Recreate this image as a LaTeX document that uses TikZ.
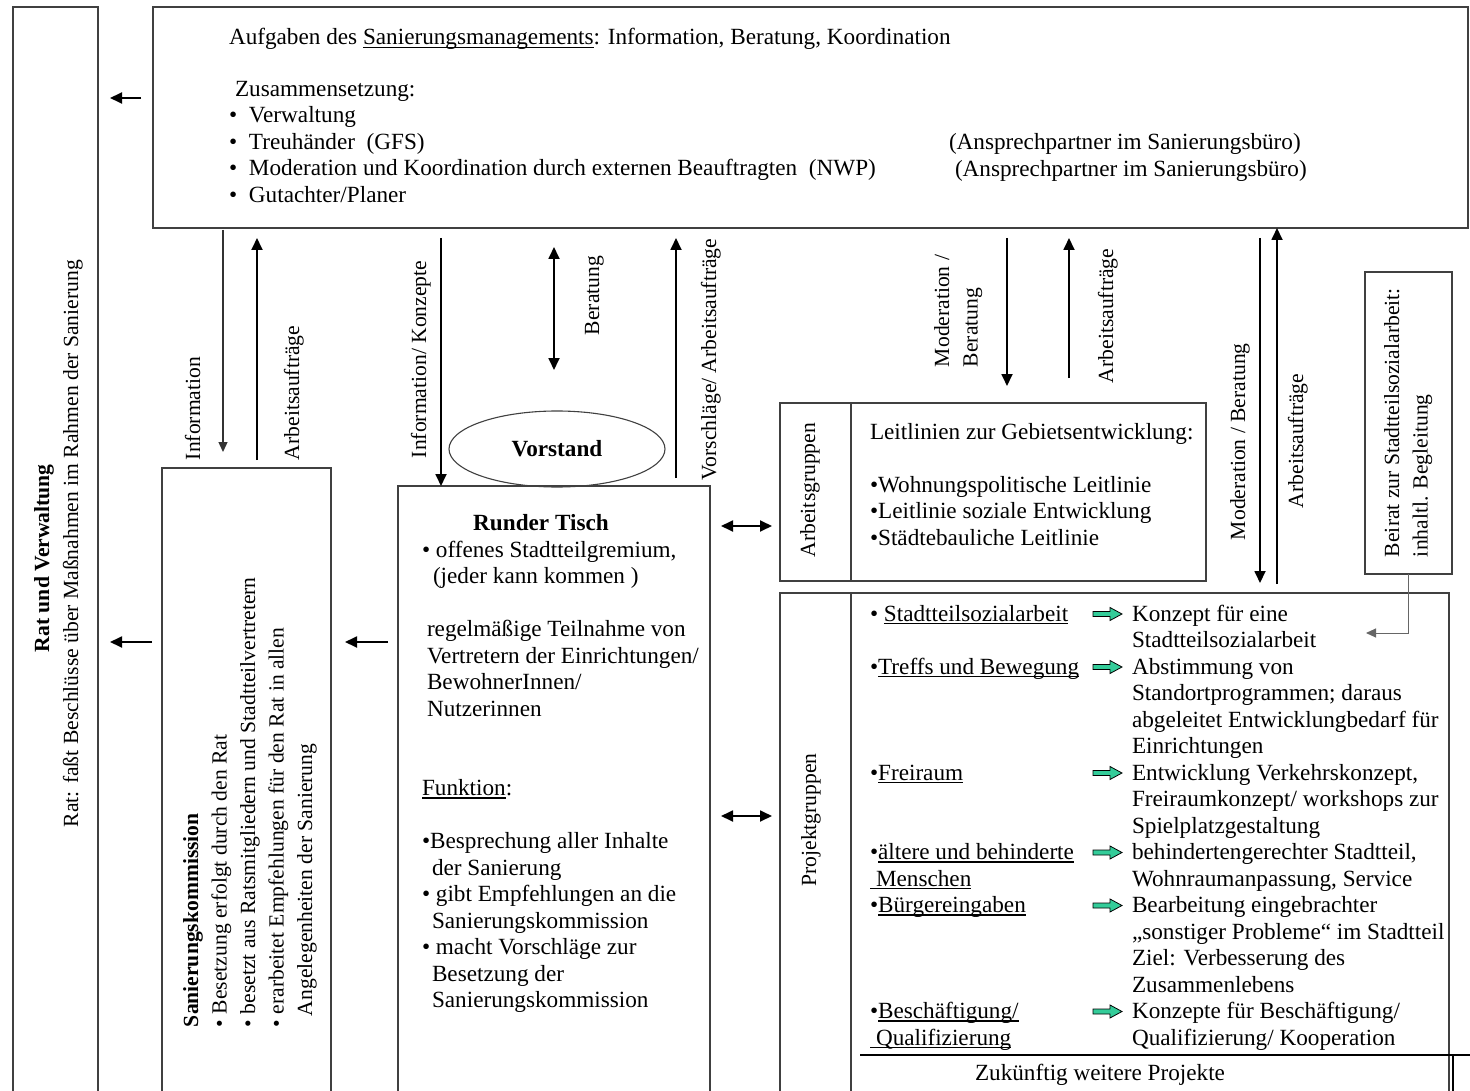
\documentclass[tikz,border=0pt]{standalone}
\usepackage{fontspec}
\setmainfont{Liberation Serif}
\usetikzlibrary{arrows.meta,calc,shapes.geometric}
\definecolor{grn}{RGB}{51,204,153}
\newcommand\uln[1]{\setbox0\hbox{#1}\rlap{\rule[-3pt]{\wd0}{1.1pt}}\box0}
\newcommand\tabl[1]{\begin{tabular}[t]{@{}l@{}}#1\end{tabular}}
\newcommand\mainfs{\fontsize{23.2}{26.5}\selectfont}
\newcommand\rotfs{\fontsize{21.6}{28.5}\selectfont}
\newcommand\garrow[1]{\filldraw[fill=grn,draw=black,line width=0.8pt]
  (1093,{#1-2.5}) -- (1110,{#1-2.5}) -- (1110,{#1-6.5}) -- (1122,#1) -- (1110,{#1+6.5}) -- (1110,{#1+2.5}) -- (1093,{#1+2.5}) -- cycle;}
\tikzset{
  box/.style={draw=black!75,line width=1.3pt,rectangle,anchor=north west},
  rotlab/.style={rotate=90,font=\rotfs},
  arr/.style={line width=1.8pt,-{Triangle[length=12pt,width=11pt]}},
  greyarr/.style={line width=1.3pt,draw=black!55,-{Triangle[length=10pt,width=9pt]},color=black!80},
  darr/.style={line width=1.8pt,{Triangle[length=12pt,width=11pt]}-{Triangle[length=12pt,width=11pt]}},
  conn/.style={line width=1pt,draw=black!60,-{Triangle[length=10pt,width=9pt]}},
  divider/.style={draw=black!75,line width=1.3pt}
}
\begin{document}
\begin{tikzpicture}[x=1pt,y=-1pt,every node/.style={inner sep=0pt,outer sep=0pt},font=\mainfs]
\useasboundingbox (0,0) rectangle (1470,1091);
\clip (0,0) rectangle (1470,1091);
\fill[white] (0,0) rectangle (1470,1091);

% boxes
\node[box,minimum width=85pt,minimum height=1100pt] (ratbox) at (13,7) {};
\node[box,minimum width=1315pt,minimum height=221pt] (topbox) at (153,7) {};
\node[box,minimum width=169pt,minimum height=640pt] (skbox) at (162,468) {};
\node[box,minimum width=312pt,minimum height=620pt] (rtbox) at (398,486) {};
\node[box,minimum width=426pt,minimum height=178pt] (agbox) at (780,403) {};
\node[box,minimum width=669pt,minimum height=520pt] (pgbox) at (780,593) {};
\node[box,minimum width=87pt,minimum height=302pt] (beirat) at (1365,272) {};
\node[ellipse,draw=black!75,line width=1.1pt,minimum width=216pt,minimum height=76pt] (vorstand) at (557,449) {\textbf{Vorstand}};

% dividers
\draw[divider] ($(agbox.north west)+(71,0)$) -- ($(agbox.south west)+(71,0)$);
\draw[divider] ($(pgbox.north west)+(71,0)$) -- ($(pgbox.south west)+(71,0)$);
\draw[line width=1.3pt] ($(pgbox.north west)+(80,462)$) -- ($(pgbox.north east)+(21,462)$);
\draw[line width=1.3pt] ($(pgbox.north east)+(4,462)$) -- ++(0,60);

% top box text
\node[anchor=base west] (aufg) at (229,45) {Aufgaben des \uln{Sanierungsmanagements}: Information, Beratung, Koordination};
\node[anchor=base west] (zus) at (235,97) {Zusammensetzung:};
\node[anchor=base west] (zusl) at (229,123) {\tabl{\makebox[20pt][l]{•}Verwaltung\\ \makebox[20pt][l]{•}Treuhänder\ \ (GFS)\\ \makebox[20pt][l]{•}Moderation und Koordination durch externen Beauftragten\ \ (NWP)\\ \makebox[20pt][l]{•}Gutachter/Planer}};
\node[anchor=base west] (ap1) at (949,150) {(Ansprechpartner im Sanierungsbüro)};
\node[anchor=base west] (ap2) at (955,176.5) {(Ansprechpartner im Sanierungsbüro)};

% Rat und Verwaltung
\node[rotlab,anchor=base west] (ratt) at (49,652) {\textbf{Rat und Verwaltung}};
\node[rotlab,anchor=base west] (ratd) at (78,827) {Rat: faßt Beschlüsse über Maßnahmen im Rahmen der Sanierung};

% Sanierungskommission
\node[rotlab,anchor=base west] (sktext) at (198,1027) {\tabl{\textbf{Sanierungskommission}\\ • Besetzung erfolgt durch den Rat\\ • besetzt aus Ratsmitgliedern und Stadtteilvertretern\\ • erarbeitet Empfehlungen für den Rat in allen\\ \hspace{11pt}Angelegenheiten der Sanierung}};

% Runder Tisch
\node[anchor=base] (rttitle) at (541,530) {\textbf{Runder Tisch}};
\node[anchor=base west] (rtbody) at (422,557) {\tabl{• offenes Stadtteilgremium,\\ \hspace{11pt}(jeder kann kommen )\\ \\ \hspace{5pt}regelmäßige Teilnahme von\\ \hspace{5pt}Vertretern der Einrichtungen/\\ \hspace{5pt}BewohnerInnen/\\ \hspace{5pt}Nutzerinnen\\ \\ \\ \uln{Funktion}:\\ \\ •Besprechung aller Inhalte\\ \hspace{10pt}der Sanierung\\ • gibt Empfehlungen an die\\ \hspace{10pt}Sanierungskommission\\ • macht Vorschläge zur\\ \hspace{10pt}Besetzung der\\ \hspace{10pt}Sanierungskommission}};

% Arbeitsgruppen
\node[rotlab,anchor=base] (aglab) at (815,490) {Arbeitsgruppen};
\node[anchor=base west] (agtext) at (870,439) {\tabl{Leitlinien zur Gebietsentwicklung:\\ \\ •Wohnungspolitische Leitlinie\\ •Leitlinie soziale Entwicklung\\ •Städtebauliche Leitlinie}};

% Projektgruppen
\node[rotlab,anchor=base] (pglab) at (816,820) {Projektgruppen};
\node[anchor=base west] (pgleft) at (870,621) {\tabl{• \uln{Stadtteilsozialarbeit}\\ \\ •\uln{Treffs und Bewegung}\\ \\ \\ \\ •\uln{Freiraum}\\ \\ \\ •\uln{ältere und behinderte}\\ \uln{\hspace{6pt}Menschen}\\ •\uln{Bürgereingaben}\\ \\ \\ \\ •\uln{Beschäftigung/}\\ \uln{\hspace{6pt}Qualifizierung}}};
\node[anchor=base west] (pgright) at (1132,621) {\tabl{Konzept für eine\\ Stadtteilsozialarbeit\\ Abstimmung von\\ Standortprogrammen; daraus\\ abgeleitet Entwicklungbedarf für\\ Einrichtungen\\ Entwicklung Verkehrskonzept,\\ Freiraumkonzept/ workshops zur\\ Spielplatzgestaltung\\ behindertengerechter Stadtteil,\\ Wohnraumanpassung, Service\\ Bearbeitung eingebrachter\\ „sonstiger Probleme“ im Stadtteil\\ Ziel: Verbesserung des\\ Zusammenlebens\\ Konzepte für Beschäftigung/\\ Qualifizierung/ Kooperation}};
\garrow{614}
\garrow{667}
\garrow{773}
\garrow{852.5}
\garrow{905.5}
\garrow{1011.5}
\node[anchor=base west] (zuk) at (975,1080) {Zukünftig weitere Projekte};

% Beirat
\node[rotlab,anchor=base west] (beitext) at (1399,557) {\tabl{Beirat zur Stadtteilsozialarbeit:\\ inhaltl. Begleitung}};

% arrow labels
\node[rotlab,anchor=base west] (l1) at (200,460) {Information};
\node[rotlab,anchor=base west] (l2) at (299,460) {Arbeitsaufträge};
\node[rotlab,anchor=base west] (l3) at (426,458) {Information/ Konzepte};
\node[rotlab,anchor=base west] (l4) at (599,335) {Beratung};
\node[rotlab,anchor=base west] (l5) at (716,480) {Vorschläge/ Arbeitsaufträge};
\node[rotlab,anchor=base west] (l6) at (949,367) {\tabl{Moderation /\\ Beratung}};
\node[rotlab,anchor=base west] (l7) at (1113,383) {Arbeitsaufträge};
\node[rotlab,anchor=base west] (l8) at (1245,540) {Moderation / Beratung};
\node[rotlab,anchor=base west] (l9) at (1303,508) {Arbeitsaufträge};

% connectors
\draw[arr] ($(topbox.north west)+(-12,91)$) -- ($(ratbox.north east)+(12,91)$);
\draw[arr] ($(skbox.north west)+(-10,174)$) -- ($(ratbox.north east)+(12,635)$);
\draw[arr] ($(rtbox.north west)+(-10,156)$) -- ($(skbox.north east)+(14,174)$);
\draw[greyarr] ($(topbox.south west)+(70,2)$) -- ($(skbox.north west)+(61,-16)$);
\draw[arr] ($(skbox.north west)+(95,-8)$) -- ($(topbox.south west)+(104,10)$);
\draw[arr] ($(topbox.south west)+(288,10)$) -- ($(rtbox.north west)+(43,0)$);
\draw[darr] ($(topbox.south west)+(401,19)$) -- ($(vorstand.north)+(-3,-41)$);
\draw[arr] ($(rtbox.north west)+(278,-8)$) -- ($(topbox.south west)+(523,10)$);
\draw[arr] ($(topbox.south west)+(854,10)$) -- ($(agbox.north west)+(227,-17)$);
\draw[arr] ($(agbox.north west)+(289,-25)$) -- ($(topbox.south west)+(916,10)$);
\draw[arr] ($(topbox.south west)+(1107,10)$) -- ($(pgbox.north west)+(480,-10)$);
\draw[arr] ($(pgbox.north west)+(497,-9)$) -- ($(topbox.south west)+(1124,0)$);
\draw[darr] ($(rtbox.north east)+(11,40)$) -- ($(agbox.north west)+(-8,123)$);
\draw[darr] ($(rtbox.north east)+(11,330)$) -- ($(pgbox.north west)+(-8,223)$);
\draw[conn] (beirat.south) |- ($(pgbox.north west)+(586,40)$);
\end{tikzpicture}
\end{document}
